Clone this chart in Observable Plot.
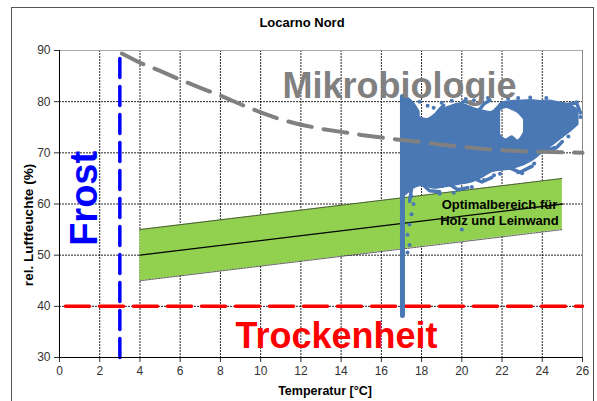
<!DOCTYPE html>
<html>
<head>
<meta charset="utf-8">
<script src="https://cdn.jsdelivr.net/npm/d3@7"></script>
<script src="https://cdn.jsdelivr.net/npm/@observablehq/plot@0.6"></script>
<style>
  html, body { margin: 0; padding: 0; background: #fff; }
</style>
</head>
<body>
<div id="chart"></div>
<script>
const FONT = "'Liberation Sans', Arial, sans-serif";
const BLUE = "#4a78b4";

// axes
const xTicks = [0, 2, 4, 6, 8, 10, 12, 14, 16, 18, 20, 22, 24, 26];
const yTicks = [30, 40, 50, 60, 70, 80, 90];

// optimal band (Holz und Leinwand)
const bandX = [4, 25];
const bandCenter = [50, 60];
const bandLow = [45, 55];
const bandHigh = [55, 65];

// Mikrobiologie limit curve
const microX = [3.1, 4, 5, 6, 7, 8, 9, 10, 11, 12, 13, 14, 15, 16, 17, 18, 19, 20, 21, 22, 23, 24, 25, 26];
const microY = [89.4, 87.6, 86.0, 84.3, 82.7, 81.2, 79.5, 77.9, 76.5, 75.5, 74.7, 74.1, 73.5, 73.0, 72.5, 72.1, 71.6, 71.2, 70.8, 70.5, 70.3, 70.2, 70.1, 70.0];

// Frost and Trockenheit limits
const frostX = 3;
const frostY = [30, 89.2];
const dryY = 40;
const dryX = [0.3, 26];

// measured data (Locarno Nord): column at ~17 °C
const columnX = 17.05;
const columnY = [38.2, 81];

// dense parts of the cloud: [part, temperature, rh low, rh high]
const cloudBlobs = [
  ["e", 17.0, 61, 81], ["e", 17.3, 62, 80.8], ["e", 17.6, 63, 79.8], ["e", 17.9, 63.5, 78],
  ["m", 17.9, 63.5, 77], ["m", 18.3, 63.3, 76.6], ["m", 18.7, 63.0, 77.6], ["m", 19.1, 63.2, 78.6],
  ["m", 19.5, 63.5, 79.2], ["m", 19.9, 63.8, 79.6], ["m", 20.3, 64.0, 79.2], ["m", 20.7, 64.5, 78.6],
  ["m", 21.1, 65.3, 78.2], ["m", 21.5, 66.2, 78.0], ["m", 21.9, 66.5, 79.5],
  ["b", 21.9, 66.5, 73.5], ["b", 22.2, 66.6, 72.6], ["b", 22.5, 66.8, 73.2], ["b", 22.8, 67.2, 72.4], ["b", 23.1, 67.6, 74.0],
  ["c", 21.9, 78.2, 79.6], ["c", 22.2, 78.8, 80.0], ["c", 22.5, 78.4, 80.1], ["c", 22.8, 77.8, 80.2], ["c", 23.1, 76.5, 80.2],
  ["d", 23.1, 67.6, 80.2], ["d", 23.5, 68.4, 80.3], ["d", 23.9, 69.6, 80.1], ["d", 24.3, 70.8, 80.2],
  ["d", 24.8, 72.3, 79.9], ["d", 25.3, 73.8, 79.5], ["d", 25.8, 75.5, 78.4]
];

// ragged edges of the cloud: traces of [temperature, rh]
const cloudTraces = [
  [[18.5, 76.0], [18.8, 78.0], [19.1, 79.3]],
  [[19.8, 79.0], [20.1, 80.1], [20.5, 79.7]],
  [[20.8, 78.0], [21.1, 79.6], [21.4, 80.3]],
  [[18.0, 64.0], [18.4, 62.6], [18.9, 62.4]],
  [[19.4, 63.8], [19.8, 62.8], [20.3, 63.2]],
  [[20.6, 65.0], [21.0, 64.3], [21.5, 65.2]],
  [[22.4, 67.0], [22.9, 66.2], [23.5, 67.4]],
  [[24.2, 70.5], [24.7, 71.0], [25.0, 72.2]],
  [[25.3, 79.5], [25.7, 79.8], [25.9, 77.8]],
  [[17.6, 66.0], [17.5, 63.0], [17.4, 60.5]]
];

// scattered single readings
const cloudDots = [
  [17.9, 80], [18.3, 79.2], [18.6, 78.8], [19.0, 79.8], [19.5, 80.2], [20.2, 80.5], [20.6, 80.3], [21.3, 80.7],
  [17.5, 58], [17.4, 56], [17.3, 54], [17.4, 52], [17.3, 50.5], [17.6, 60], [17.5, 61.5], [20, 55],
  [18.9, 62.0], [19.6, 62.2], [20.5, 63.3], [21.1, 64.7], [21.6, 65.6],
  [25.9, 77], [25.7, 79.9], [24.2, 80.7], [23.4, 80.8], [22.3, 80.6], [22.8, 80.7],
  [24.6, 71.0], [25.3, 73.2], [23.6, 67.9], [22.8, 66.2], [21.9, 65.9], [23.0, 66.0]
];

// build tables for the library
const band = bandX.map((x, i) => ({x, lo: bandLow[i], hi: bandHigh[i], c: bandCenter[i]}));
const micro = microX.map((x, i) => ({x, y: microY[i]}));
const traceRows = cloudTraces.flatMap((t, k) => t.map(([x, y]) => ({k, x, y})));
const xGrid = xTicks.filter(v => v > 0 && v < 26);
const yGrid = yTicks.filter(v => v > 30 && v < 90);

const chart = Plot.plot({
  width: 597,
  height: 401,
  marginLeft: 59,
  marginRight: 15,
  marginTop: 50,
  marginBottom: 44,
  style: {fontFamily: FONT, fontSize: "12px", color: "#333", background: "#fff", overflow: "visible"},
  x: {domain: [0, 26], ticks: xTicks, tickSize: 5, tickPadding: 4, label: null},
  y: {domain: [30, 90], ticks: yTicks, tickSize: 5, tickPadding: 4, label: null},
  marks: [
    Plot.ruleX(xGrid, {x: d => d, stroke: "#000", strokeDasharray: "2,1", strokeOpacity: 0.85}),
    Plot.ruleY(yGrid, {y: d => d, stroke: "#000", strokeDasharray: "2,1", strokeOpacity: 0.85}),
    Plot.ruleY([90], {stroke: "#aaa"}),
    Plot.ruleX([26], {stroke: "#888"}),
    // band
    Plot.areaY(band, {x: "x", y1: "lo", y2: "hi", fill: "#92d050"}),
    Plot.line(band, {x: "x", y: "lo", stroke: "#333", strokeWidth: 0.8, strokeDasharray: "2,1"}),
    Plot.line(band, {x: "x", y: "hi", stroke: "#333", strokeWidth: 0.8, strokeDasharray: "2,1"}),
    Plot.line(band, {x: "x", y: "c", stroke: "#000", strokeWidth: 1.3}),
    // limits
    Plot.line(dryX, {x: d => d, y: () => dryY, stroke: "#ff0000", strokeWidth: 3.5, strokeDasharray: "24,10"}),
    Plot.line(frostY, {x: () => frostX, y: d => d, stroke: "#0000ff", strokeWidth: 3.5, strokeDasharray: "19,9"}),
    // measured cloud
    Plot.areaY(cloudBlobs, {x: d => d[1], y1: d => d[2], y2: d => d[3], z: d => d[0], fill: BLUE, stroke: BLUE, strokeWidth: 1.2, strokeLinejoin: "round", curve: "catmull-rom"}),
    Plot.line(traceRows, {x: "x", y: "y", z: "k", stroke: BLUE, strokeWidth: 3.5, strokeLinecap: "round", strokeLinejoin: "round"}),
    Plot.dot(cloudDots, {x: d => d[0], y: d => d[1], r: 2, fill: BLUE}),
    Plot.line(columnY, {x: () => columnX, y: d => d, stroke: BLUE, strokeWidth: 5, strokeLinecap: "round"}),
    // microbiology curve
    Plot.line(micro, {x: "x", y: "y", stroke: "#808080", strokeWidth: 4, strokeDasharray: "24,12"}),
    // axes lines
    Plot.ruleX([0], {stroke: "#000"}),
    Plot.ruleY([30], {stroke: "#000"}),
    // annotations
    Plot.text(["Frost"], {x: 1.24, y: 61.1, rotate: -90, fill: "#0000ff", fontSize: 38, fontWeight: "bold", textAnchor: "middle", lineAnchor: "middle"}),
    Plot.text(["Mikrobiologie"], {x: 11.09, y: 80.8, fill: "#808080", fontSize: 36, fontWeight: "bold", textAnchor: "start", lineAnchor: "bottom"}),
    Plot.text(["Trockenheit"], {x: 8.75, y: 31.76, fill: "#ff0000", fontSize: 36, fontWeight: "bold", textAnchor: "start", lineAnchor: "bottom"}),
    Plot.text(["Optimalbereich für\nHolz und Leinwand"], {x: 21.87, y: 55.8, fill: "#000", fontSize: 13, fontWeight: "bold", textAnchor: "middle", lineAnchor: "bottom", lineHeight: 1.3})
  ]
});

const svg = d3.select(chart);
svg.append("rect")
  .attr("x", 11.5).attr("y", 7.5).attr("width", 582).attr("height", 400)
  .attr("fill", "none").attr("stroke", "#555").attr("stroke-width", 1);
svg.append("text")
  .attr("x", 302).attr("y", 27)
  .attr("text-anchor", "middle")
  .attr("font-family", FONT).attr("font-size", 13).attr("font-weight", "bold").attr("fill", "#000")
  .text("Locarno Nord");
svg.append("text")
  .attr("transform", "translate(32.5,225) rotate(-90)")
  .attr("text-anchor", "middle")
  .attr("font-family", FONT).attr("font-size", 13.5).attr("font-weight", "bold").attr("fill", "#000")
  .text("rel. Luftfeuchte (%)");
svg.append("text")
  .attr("x", 325).attr("y", 395)
  .attr("text-anchor", "middle")
  .attr("font-family", FONT).attr("font-size", 12.5).attr("font-weight", "bold").attr("fill", "#000")
  .text("Temperatur [°C]");

document.getElementById("chart").appendChild(chart);
</script>
</body>
</html>
